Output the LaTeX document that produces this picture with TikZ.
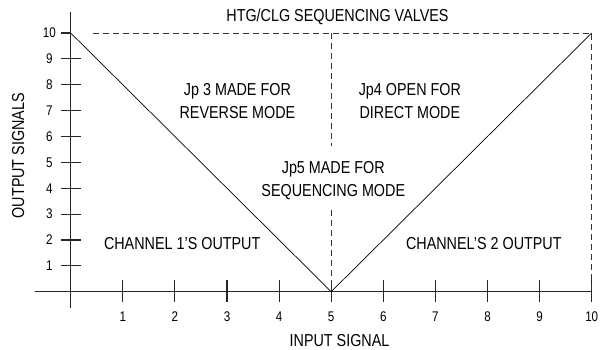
\documentclass[tikz,border=0pt]{standalone}
\usepackage{fontspec}
\setmainfont{Liberation Sans}[FakeStretch=0.83]
\tikzset{
    axisline/.style={line width=1.1pt, black!85},
    curveline/.style={line width=0.7pt, black},
    dashline/.style={line width=0.8pt, black!80, dash pattern=on 6pt off 4pt},
    lbl/.style={font=\fontsize{17.3}{19}\selectfont, inner sep=0pt},
    ticklbl/.style={font=\fontsize{14}{15}\selectfont, inner sep=0pt}
}
\begin{document}
\begin{tikzpicture}[x=1pt,y=1pt]
    \useasboundingbox (0,0) rectangle (601,349);
    \begin{scope}[shift={(70.7pt,57.3pt)}, x=52.1pt, y=25.87pt]
        % axes
        \draw[axisline] (0,-0.63) -- (0,10.81);
        \draw[axisline] (-0.685,0) -- (10,0);

        % ticks and numbers
        \foreach \v in {1,...,9}
            \draw[axisline] (-0.186,\v) -- (0.198,\v);
        \draw[axisline] (-0.186,10) -- (0,10);
        \foreach \v in {1,...,10}
            \node[ticklbl] at (-0.41,\v) {\v};
        \foreach \u in {1,...,10}
        {
            \draw[axisline] (\u,-0.39) -- (\u,0.45);
            \node[ticklbl] at (\u,-0.97) {\u};
        }

        % sequencing limits
        \draw[dashline] (0.43,10) -- (10,10) -- (10,0);
        \draw[dashline] (5,10) -- (5,5.63);
        \draw[dashline] (5,3.16) -- (5,0);

        % channel outputs
        \draw[curveline] (0,10) -- (5,0) -- (10,10);

        % labels
        \node[lbl] (title) at (5.12,10.62) {HTG/CLG SEQUENCING VALVES};
        \node[lbl, align=center] (jpthree) at (3.20,7.37) {Jp 3 MADE FOR\\[4pt]REVERSE MODE};
        \node[lbl, align=center] (jpfour) at (6.51,7.37) {Jp4 OPEN FOR\\[4pt]DIRECT MODE};
        \node[lbl, align=center] (jpfive) at (5.04,4.28) {Jp5 MADE FOR\\[4pt]SEQUENCING MODE};
        \node[lbl] (chone) at (2.14,1.88) {CHANNEL 1'S OUTPUT};
        \node[lbl] (chtwo) at (7.93,1.88) {CHANNEL'S 2 OUTPUT};
        \node[lbl] (xlabel) at (5.16,-1.87) {INPUT SIGNAL};
        \node[lbl, rotate=90] (ylabel) at (-1.01,5.26) {OUTPUT SIGNALS};
    \end{scope}
\end{tikzpicture}
\end{document}
